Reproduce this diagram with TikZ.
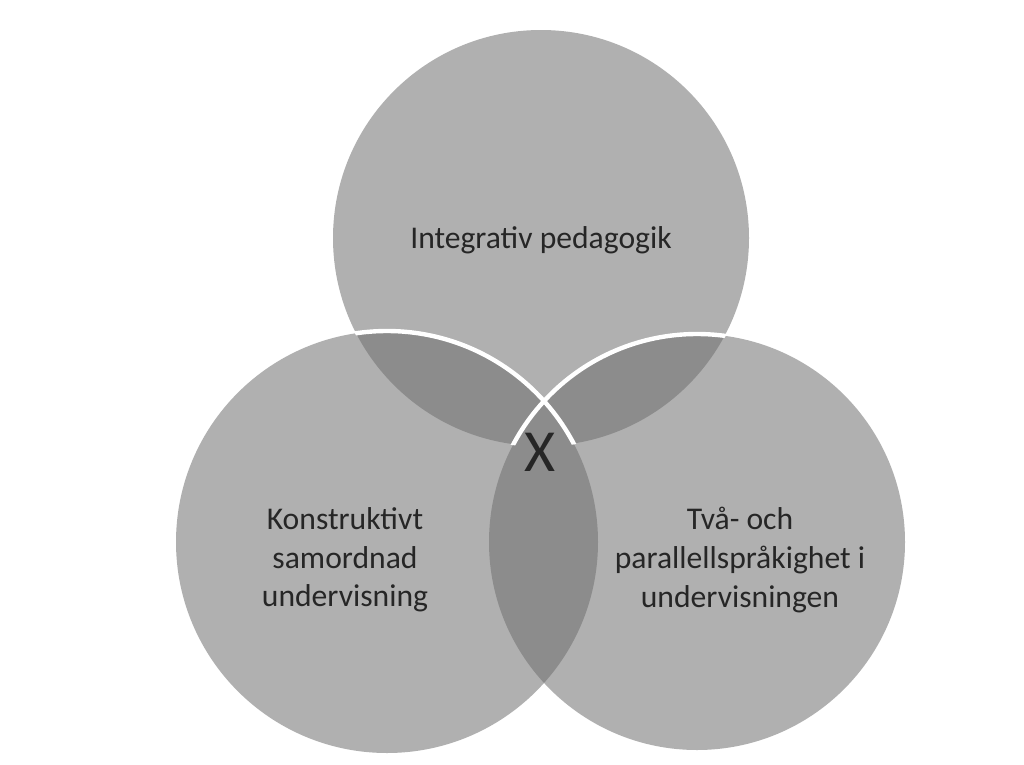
\documentclass[tikz,border=0pt]{standalone}
\usepackage{fontspec}
\setmainfont{Carlito}
\begin{document}
\begin{tikzpicture}[x=0.02cm,y=-0.02cm,
  ring/.style={draw=white,line width=2.5pt},
  lab/.style={align=center,font=\fontsize{18}{22}\selectfont,text=black!85}]
\definecolor{base}{HTML}{B0B0B0}
\definecolor{dark}{HTML}{8C8C8C}
\useasboundingbox[fill=white] (0,0) rectangle (1024,764);
\coordinate (ct) at (541,238);
\coordinate (cl) at (387,542);
\coordinate (cr) at (697,542);
\fill[base] (ct) circle (208);
\fill[base] (cl) circle (211);
\fill[base] (cr) circle (208);
\begin{scope}\clip (ct) circle (208); \fill[dark] (cl) circle (211); \fill[dark] (cr) circle (208);\end{scope}
\begin{scope}\clip (cl) circle (211); \fill[dark] (cr) circle (208);\end{scope}
\begin{scope}\clip (ct) circle (209);
\draw[ring] (cl) circle (211);
\draw[ring] (cr) circle (208);
\end{scope}
\node[lab] (t) at (541,240) {Integrativ pedagogik};
\node[lab] (l) at (345,560) {Konstruktivt\\samordnad\\undervisning};
\node[lab] (r) at (740,560) {Två- och\\parallellspråkighet i\\undervisningen};
\node[text=black!85,font=\fontsize{34}{34}\selectfont] (x) at (540,452) {X};
\end{tikzpicture}
\end{document}
